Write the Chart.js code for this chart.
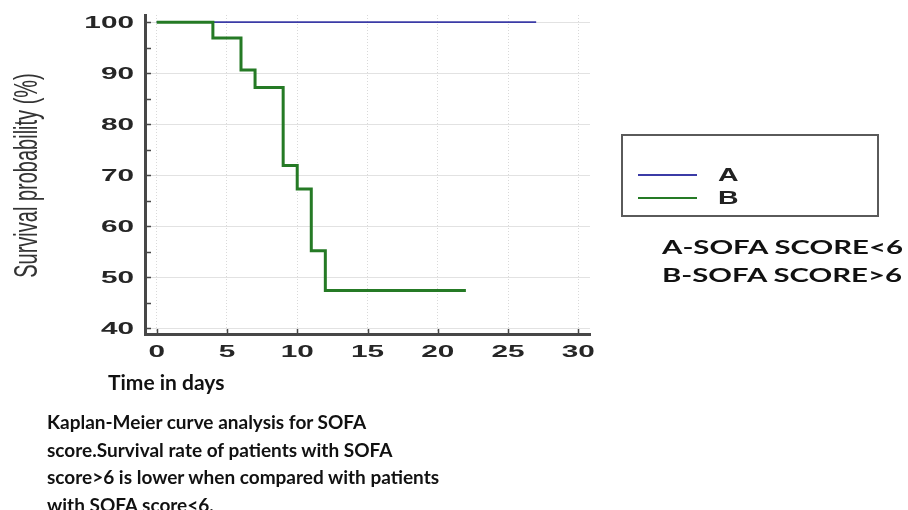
<!DOCTYPE html>
<html>
<head>
<meta charset="utf-8">
<script src="https://cdn.jsdelivr.net/npm/chart.js@4/dist/chart.umd.min.js"></script>
<style>
  body { margin: 0; background: #fff; }
  #wrap { position: relative; width: 908px; height: 510px; overflow: hidden; }
  #chart { position: absolute; left: 0; top: 0; }
  .note { position: absolute; font-family: Lato, "Open Sans", sans-serif; font-weight: bold; color: #111; white-space: nowrap; }
  #groups { left: 662px; top: 233px; font-size: 18px; line-height: 28px; transform: scaleX(1.63); transform-origin: left top; }
  #xtitle { left: 108px; top: 369px; font-size: 21px; line-height: 26px; }
  #caption { left: 47px; top: 408px; font-size: 19px; line-height: 27.5px; }
</style>
</head>
<body>
<div id="wrap">
  <canvas id="chart" width="908" height="510"></canvas>
  <div id="groups" class="note">A-SOFA SCORE&lt;6<br>B-SOFA SCORE&gt;6</div>
  <div id="xtitle" class="note">Time in days</div>
  <div id="caption" class="note">Kaplan-Meier curve analysis for SOFA<br>score.Survival rate of patients with SOFA<br>score&gt;6 is lower when compared with patients<br>with SOFA score&lt;6.</div>
</div>
<script>
// DATA
// =============================================================================

const groupLabels = ['A', 'B'];

// Group A: SOFA score < 6, no events
const daysA = [0, 27];
const survivalA = [100, 100];

// Group B: SOFA score > 6, step drops at event times
const daysB = [0, 4, 6, 7, 9, 10, 11, 12, 22];
const survivalB = [100, 96.9, 90.6, 87.2, 71.9, 67.3, 55.2, 47.4, 47.4];

const xTicks = [0, 5, 10, 15, 20, 25, 30];
const yTicks = [40, 50, 60, 70, 80, 90, 100];
const yMinorTicks = [45, 55, 65, 75, 85, 95];

const yTitle = 'Survival probability (%)';

// =============================================================================

const toPoints = (xs, ys) => xs.map((x, i) => ({ x: x, y: ys[i] }));

// the original figure was stretched sideways, so its text is too
const STRETCH = 1.75;
const AXIS_COLOR = '#474747';
const LABEL_COLOR = '#262626';

/**
 * Draws tick labels, inner tick marks, the y title and the legend box
 */
const decorPlugin = {
  id: 'decor',
  afterDraw(chart) {
    const ctx = chart.ctx;
    const xs = chart.scales.x;
    const ys = chart.scales.y;
    const area = chart.chartArea;

    ctx.save();

    // inward tick marks
    ctx.strokeStyle = AXIS_COLOR;
    ctx.lineWidth = 1.5;
    ctx.beginPath();
    yTicks.concat(yMinorTicks).forEach(v => {
      const py = Math.round(ys.getPixelForValue(v)) + 0.5;
      ctx.moveTo(area.left, py);
      ctx.lineTo(area.left + 6, py);
    });
    xTicks.forEach(v => {
      const px = Math.round(xs.getPixelForValue(v)) + 0.5;
      ctx.moveTo(px, area.bottom);
      ctx.lineTo(px, area.bottom - 5);
    });
    ctx.stroke();

    // tick labels
    ctx.fillStyle = LABEL_COLOR;
    ctx.font = 'bold 17px "Liberation Sans", Arial, sans-serif';
    ctx.textBaseline = 'middle';
    ctx.textAlign = 'right';
    ys.ticks.forEach(t => {
      ctx.save();
      ctx.translate(area.left - 11, ys.getPixelForValue(t.value) + 1);
      ctx.scale(STRETCH, 1);
      ctx.fillText(String(t.value), 0, 0);
      ctx.restore();
    });
    ctx.textAlign = 'center';
    xs.ticks.forEach(t => {
      ctx.save();
      ctx.translate(xs.getPixelForValue(t.value), area.bottom + 18);
      ctx.scale(STRETCH, 1);
      ctx.fillText(String(t.value), 0, 0);
      ctx.restore();
    });

    // y axis title
    ctx.save();
    ctx.fillStyle = '#333';
    ctx.font = '20px "Liberation Sans", Arial, sans-serif';
    ctx.textBaseline = 'alphabetic';
    ctx.textAlign = 'center';
    ctx.translate(37, (area.top + area.bottom) / 2 + 1);
    ctx.scale(1.7, 1);
    ctx.rotate(-Math.PI / 2);
    ctx.fillText(yTitle, 0, 0);
    ctx.restore();

    // legend box
    ctx.strokeStyle = '#5a5a5a';
    ctx.lineWidth = 2;
    ctx.strokeRect(622, 135, 256, 81);
    const rows = [175, 198];
    chart.data.datasets.forEach((ds, i) => {
      ctx.strokeStyle = ds.borderColor;
      ctx.lineWidth = 2;
      ctx.beginPath();
      ctx.moveTo(638, rows[i]);
      ctx.lineTo(697, rows[i]);
      ctx.stroke();
      ctx.save();
      ctx.fillStyle = '#222';
      ctx.font = 'bold 19px "Liberation Sans", Arial, sans-serif';
      ctx.textAlign = 'left';
      ctx.textBaseline = 'middle';
      ctx.translate(718, rows[i] + 1);
      ctx.scale(1.5, 1);
      ctx.fillText(ds.label, 0, 0);
      ctx.restore();
    });

    ctx.restore();
  }
};

const fixedTicks = list => scale => {
  scale.ticks = list.map(v => ({ value: v }));
};

new Chart(document.getElementById('chart'), {
  type: 'line',
  data: {
    datasets: [
      {
        label: groupLabels[0],
        data: toPoints(daysA, survivalA),
        borderColor: '#3b3ba6',
        borderWidth: 1.6,
        stepped: 'before',
        pointRadius: 0,
        fill: false,
        order: 2
      },
      {
        label: groupLabels[1],
        data: toPoints(daysB, survivalB),
        borderColor: '#257a25',
        borderWidth: 3,
        stepped: 'before',
        pointRadius: 0,
        fill: false,
        order: 1
      }
    ]
  },
  options: {
    responsive: false,
    animation: false,
    layout: {
      padding: { left: 145, right: 318, top: 15, bottom: 176 }
    },
    plugins: {
      legend: { display: false },
      tooltip: { enabled: false }
    },
    scales: {
      x: {
        type: 'linear',
        min: -0.83,
        max: 30.83,
        afterBuildTicks: fixedTicks(xTicks),
        ticks: { display: false },
        grid: {
          color: '#d9d9d9',
          lineWidth: 1,
          drawTicks: false
        },
        border: { display: true, color: AXIS_COLOR, width: 3, dash: [1, 2] }
      },
      y: {
        type: 'linear',
        min: 38.9,
        max: 101.4,
        afterBuildTicks: fixedTicks(yTicks),
        ticks: { display: false },
        grid: {
          color: '#e2e2e2',
          lineWidth: 1,
          drawTicks: false
        },
        border: { display: true, color: AXIS_COLOR, width: 3 }
      }
    }
  },
  plugins: [decorPlugin]
});
</script>
</body>
</html>
